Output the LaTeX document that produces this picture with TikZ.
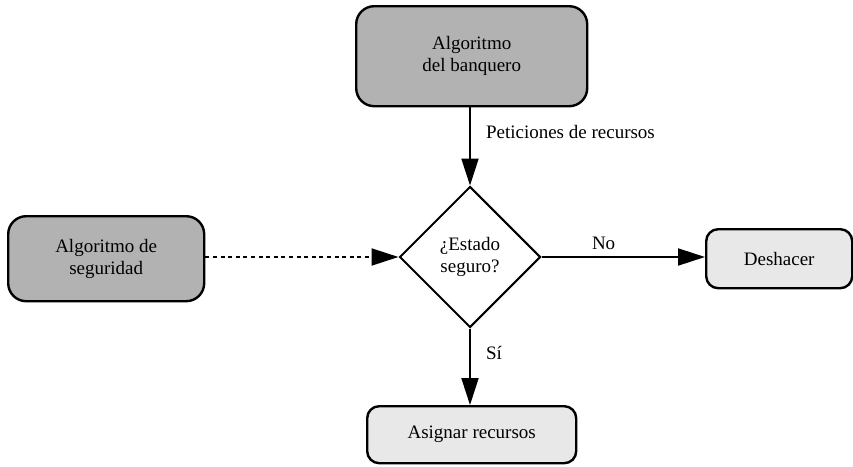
\documentclass[tikz,border=0pt]{standalone}
\usepackage{fontspec}
\setmainfont{Liberation Serif}
\usetikzlibrary{arrows.meta,shapes.geometric}
\definecolor{darkfill}{HTML}{B2B2B2}
\definecolor{lightfill}{HTML}{E8E8E8}
\begin{document}
\begin{tikzpicture}[x=1pt,y=-1pt,
  box/.style={draw=black,line width=2.4pt,rounded corners=18pt,align=center,
    font=\fontsize{19}{22}\selectfont,inner sep=0pt,anchor=north west},
  darkbox/.style={box,fill=darkfill},
  lightbox/.style={box,fill=lightfill,rounded corners=12pt},
  decision/.style={draw=black,line width=2pt,diamond,aspect=1,inner sep=0pt,
    minimum width=141pt,minimum height=141pt,align=center,
    font=\fontsize{19}{22}\selectfont},
  flow/.style={line width=2pt,-{Triangle[length=27pt,width=17pt]}},
  lbl/.style={font=\fontsize{19}{22}\selectfont,inner sep=0pt}]
\useasboundingbox (0,0) rectangle (853,466);
\node[darkbox,minimum width=231pt,minimum height=100pt] (banker) at (355,5)
  {Algoritmo\\del banquero};
\node[darkbox,minimum width=196pt,minimum height=85pt] (safety) at (7,215)
  {Algoritmo de\\seguridad};
\node[decision] (safe) at (470,257) {¿Estado\\seguro?};
\node[lightbox,minimum width=146pt,minimum height=59pt] (undo) at (705,228)
  {Deshacer};
\node[lightbox,minimum width=209pt,minimum height=57pt] (grant) at (366,405)
  {Asignar recursos};
\draw[flow] (safe.north |- banker.south) -- (safe.north)
  node[lbl,midway,anchor=west,xshift=15pt,yshift=14pt] {Peticiones de recursos};
\draw[flow,dash pattern=on 4pt off 3.6pt] (safety.east |- safe.west) -- (safe.west);
\draw[flow] (safe.east) -- (safe.east -| undo.west)
  node[lbl,pos=0.38,anchor=south,yshift=6pt] {No};
\draw[flow] (safe.south) -- (safe.south |- grant.north)
  node[lbl,midway,anchor=west,xshift=15pt,yshift=14pt] {Sí};
\end{tikzpicture}
\end{document}
